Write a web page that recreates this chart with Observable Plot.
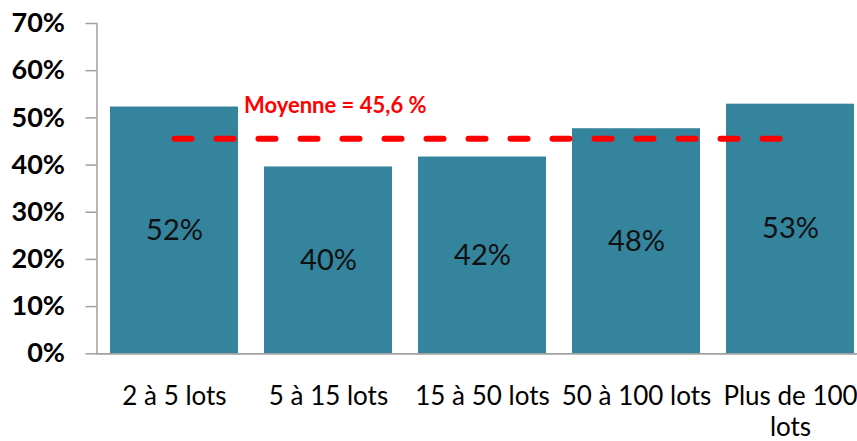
<!DOCTYPE html>
<html>
<head>
<meta charset="utf-8">
<script src="https://cdn.jsdelivr.net/npm/d3@7"></script>
<script src="https://cdn.jsdelivr.net/npm/@observablehq/plot@0.6"></script>
<style>
  html, body { margin: 0; padding: 0; background: #fff; }
  #chart svg { display: block; }
</style>
</head>
<body>
<div id="chart"></div>
<script>
const categories = ["2 à 5 lots", "5 à 15 lots", "15 à 50 lots", "50 à 100 lots", "Plus de 100 lots"];
const tickLabels = ["2 à 5 lots", "5 à 15 lots", "15 à 50 lots", "50 à 100 lots", "Plus de 100\nlots"];
const values = [52.3, 39.6, 41.7, 47.7, 52.9];
const meanValue = 45.6;
const meanLabel = "Moyenne = 45,6 %";
const yTicks = [0, 10, 20, 30, 40, 50, 60, 70];

const data = categories.map((c, i) => ({cat: c, v: values[i]}));
const meanLine = [{cat: categories[0], v: meanValue}, {cat: categories[categories.length - 1], v: meanValue}];

const chart = Plot.plot({
  width: 857,
  height: 441,
  marginLeft: 96.5,
  marginRight: 0,
  marginTop: 23,
  marginBottom: 87.7,
  style: {fontFamily: "Lato, sans-serif", color: "#000", background: "#fff"},
  x: {domain: categories, paddingInner: 0.168, paddingOuter: 0.051, align: 0.83, label: null},
  y: {domain: [0, 70], label: null},
  marks: [
    Plot.barY(data, {x: "cat", y: "v", fill: "#33849c"}),
    Plot.ruleY([0], {stroke: "#a0a0a0", strokeWidth: 1.8}),
    Plot.frame({anchor: "left", stroke: "#a0a0a0", strokeWidth: 1.5}),
    Plot.axisY({ticks: yTicks, tickSize: 11, tickPadding: 21, stroke: "#a0a0a0", strokeWidth: 1.5,
      tickFormat: d => d + "%", fontSize: 27, fontWeight: "bold", fill: "#000", label: null}),
    Plot.axisX({tickSize: 0, tickPadding: 29, fontSize: 26, lineHeight: 1.2, fill: "#000", label: null,
      tickFormat: d => tickLabels[categories.indexOf(d)]}),
    Plot.text(data, {x: "cat", y: d => d.v / 2, text: d => Math.round(d.v) + "%", fontSize: 29, fill: "#111"}),
    Plot.line(meanLine, {x: "cat", y: "v", stroke: "#ff0000", strokeWidth: 6,
      strokeDasharray: "17,25", strokeLinecap: "round"}),
    Plot.text([meanLine[0]], {x: "cat", y: "v", text: () => meanLabel, textAnchor: "start",
      dx: 69.5, dy: -32.6, fontSize: 22, fontWeight: "bold", fill: "#ff0000"})
  ]
});
document.getElementById("chart").appendChild(chart);
</script>
</body>
</html>
